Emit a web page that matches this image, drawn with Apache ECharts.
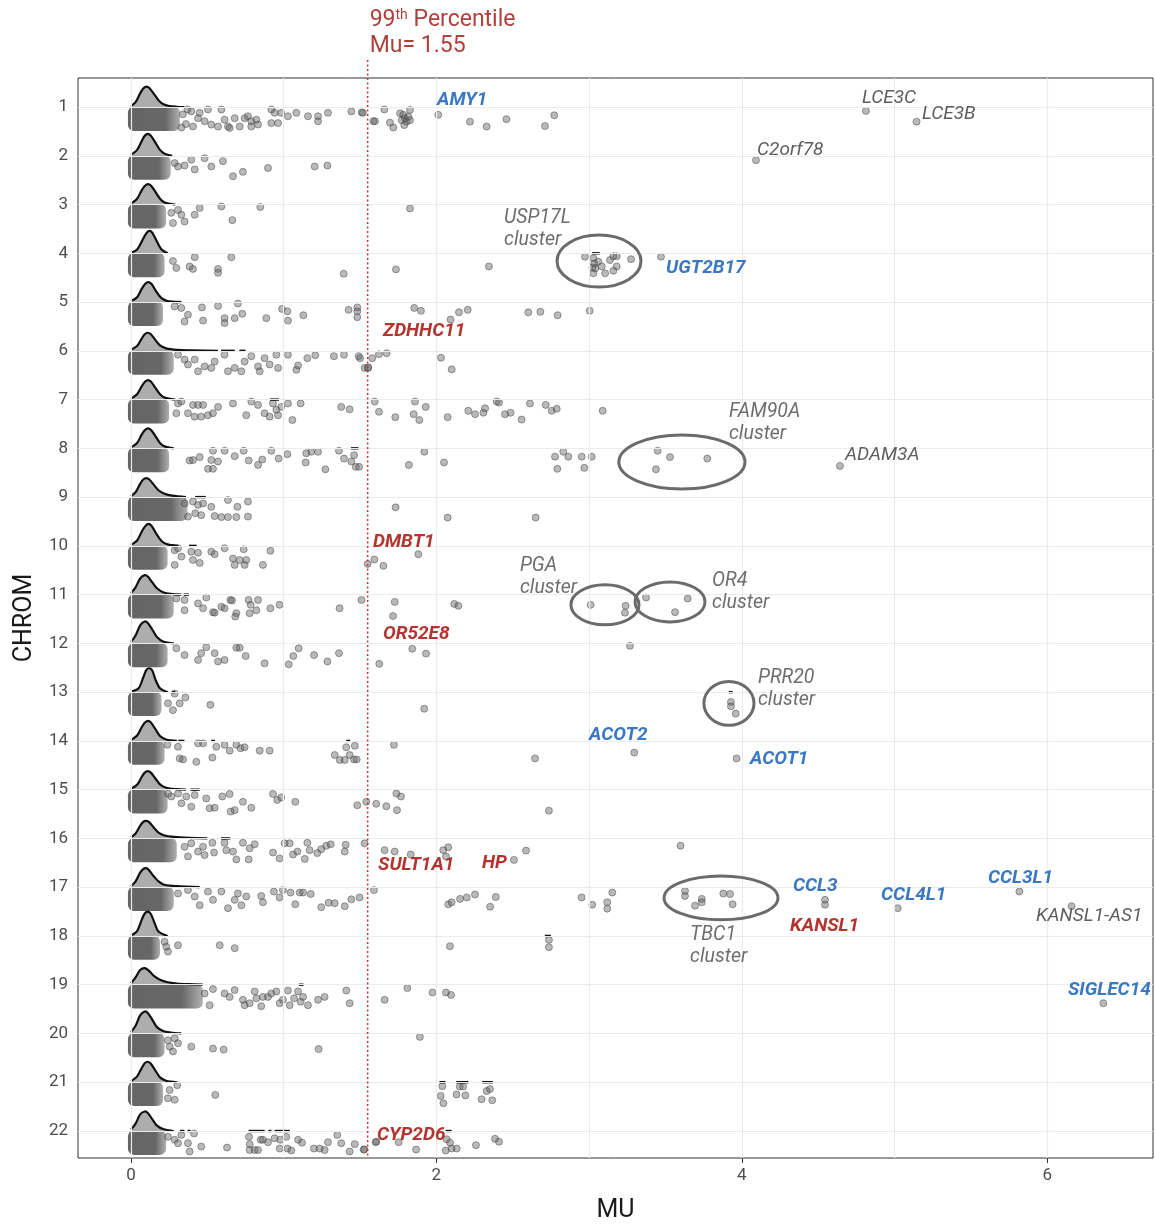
<!DOCTYPE html>
<html><head><meta charset="utf-8">
<script src="https://cdn.jsdelivr.net/npm/echarts@6/dist/echarts.min.js"></script>
<style>html,body{margin:0;padding:0;background:#fff}#c{width:1155px;height:1226px}</style>
</head><body><div id="c"></div>
<script>
// ---------- data ----------
const chromosomes = [1,2,3,4,5,6,7,8,9,10,11,12,13,14,15,16,17,18,19,20,21,22];
const xTicks = [0,2,4,6];
const xGridLines = [0,1,2,3,4,5,6];
const percentileMu = 1.55;
// right end of the dense (over-plotted) point core, per chromosome
const coreEnds = [0.32,0.26,0.23,0.22,0.21,0.28,0.25,0.25,0.37,0.24,0.28,0.24,0.20,0.22,0.24,0.30,0.28,0.19,0.47,0.22,0.21,0.23];

// density ridge outlines [mu, height in rows]
const dens1 = [[0,0.02],[0.03,0.1],[0.06,0.28],[0.08,0.38],[0.1,0.42],[0.12,0.39],[0.15,0.27],[0.18,0.14],[0.21,0.06],[0.25,0.02],[0.3,0.005],[0.35,0]];
const dens2 = [[0,0.02],[0.04,0.12],[0.07,0.3],[0.09,0.41],[0.11,0.45],[0.13,0.41],[0.16,0.27],[0.19,0.12],[0.22,0.04],[0.27,0]];
const dens3 = [[0,0.02],[0.04,0.12],[0.07,0.29],[0.09,0.38],[0.11,0.42],[0.13,0.39],[0.16,0.26],[0.19,0.12],[0.22,0.04],[0.29,0]];
const dens4 = [[0,0.01],[0.04,0.08],[0.07,0.24],[0.1,0.41],[0.12,0.46],[0.14,0.42],[0.17,0.24],[0.2,0.08],[0.24,0]];
const dens5 = [[0,0.02],[0.04,0.1],[0.07,0.27],[0.095,0.38],[0.115,0.41],[0.135,0.37],[0.165,0.22],[0.2,0.08],[0.24,0.02],[0.31,0]];
const dens6 = [[0,0.02],[0.04,0.1],[0.07,0.25],[0.09,0.34],[0.11,0.37],[0.13,0.34],[0.16,0.22],[0.19,0.11],[0.23,0.05],[0.3,0.02],[0.4,0.01],[0.57,0]];
const dens7 = [[0,0.02],[0.04,0.11],[0.07,0.27],[0.09,0.36],[0.11,0.40],[0.13,0.37],[0.16,0.24],[0.19,0.11],[0.22,0.04],[0.29,0]];
const dens8 = [[0,0.02],[0.04,0.11],[0.07,0.28],[0.09,0.37],[0.11,0.41],[0.13,0.38],[0.16,0.25],[0.19,0.11],[0.22,0.04],[0.28,0]];
const dens9 = [[0,0.02],[0.03,0.1],[0.06,0.27],[0.08,0.36],[0.1,0.39],[0.12,0.36],[0.15,0.25],[0.18,0.14],[0.22,0.07],[0.27,0.03],[0.36,0]];
const dens10 = [[0,0.02],[0.04,0.11],[0.07,0.29],[0.095,0.41],[0.115,0.45],[0.135,0.41],[0.165,0.25],[0.2,0.1],[0.24,0.03],[0.31,0]];
const dens11 = [[0,0.03],[0.03,0.15],[0.06,0.33],[0.09,0.40],[0.11,0.37],[0.14,0.25],[0.17,0.13],[0.21,0.05],[0.26,0.015],[0.33,0]];
const dens12 = [[0,0.03],[0.03,0.16],[0.06,0.37],[0.09,0.45],[0.11,0.42],[0.14,0.28],[0.17,0.13],[0.21,0.04],[0.28,0]];
const dens13 = [[0,0.01],[0.05,0.08],[0.08,0.3],[0.1,0.45],[0.12,0.49],[0.14,0.44],[0.16,0.26],[0.19,0.08],[0.24,0]];
const dens14 = [[0,0.02],[0.04,0.11],[0.07,0.28],[0.09,0.37],[0.11,0.41],[0.13,0.38],[0.16,0.24],[0.19,0.1],[0.23,0.03],[0.3,0]];
const dens15 = [[0,0.02],[0.04,0.1],[0.07,0.26],[0.09,0.35],[0.11,0.38],[0.13,0.35],[0.16,0.23],[0.19,0.11],[0.23,0.04],[0.3,0.01],[0.36,0]];
const dens16 = [[0,0.02],[0.03,0.1],[0.06,0.26],[0.08,0.34],[0.1,0.36],[0.12,0.33],[0.15,0.22],[0.18,0.12],[0.22,0.06],[0.28,0.03],[0.38,0.01],[0.5,0]];
const dens17 = [[0,0.02],[0.03,0.12],[0.06,0.3],[0.08,0.37],[0.095,0.39],[0.115,0.36],[0.145,0.24],[0.18,0.12],[0.22,0.05],[0.3,0.02],[0.45,0]];
const dens18 = [[0,0.01],[0.04,0.1],[0.07,0.33],[0.09,0.46],[0.11,0.5],[0.13,0.45],[0.155,0.26],[0.18,0.09],[0.24,0]];
const dens19 = [[0,0.03],[0.03,0.15],[0.06,0.3],[0.09,0.34],[0.12,0.28],[0.15,0.18],[0.19,0.1],[0.24,0.05],[0.3,0.025],[0.38,0.01],[0.47,0]];
const dens20 = [[0,0.03],[0.03,0.16],[0.06,0.37],[0.09,0.45],[0.11,0.42],[0.14,0.28],[0.17,0.13],[0.21,0.05],[0.26,0.02],[0.33,0]];
const dens21 = [[0,0.02],[0.04,0.12],[0.07,0.29],[0.09,0.39],[0.11,0.42],[0.13,0.38],[0.16,0.24],[0.19,0.1],[0.23,0.03],[0.3,0]];
const dens22 = [[0,0.03],[0.03,0.15],[0.06,0.34],[0.09,0.40],[0.11,0.37],[0.14,0.24],[0.17,0.11],[0.21,0.04],[0.28,0]];
// small isolated density bumps along the baseline [chrom, from, to]
const tailSegments = [[4,3.02,3.07],[5,0.30,0.33],[6,0.59,0.68],[6,0.71,0.75],[7,0.91,0.97],[8,1.44,1.49],[9,0.42,0.49],[10,0.38,0.43],[11,0.345,0.38],[13,0.27,0.29],[13,3.915,3.94],[14,0.31,0.35],[14,0.525,0.55],[14,1.41,1.435],[15,0.39,0.45],[16,0.59,0.65],[18,2.71,2.75],[19,1.10,1.13],[21,2.02,2.06],[21,2.13,2.21],[21,2.30,2.37],[22,0.32,0.35],[22,0.37,0.39],[22,0.77,0.875],[22,0.9,0.92],[22,0.94,1.04],[22,2.06,2.1]];

// individual (non-core) points [mu, vertical jitter within row]
const chr1 = [[0.34,0.15],[0.36,0.35],[0.33,0.42],[0.37,0.05],[0.395,0.09],[0.439,0.23],[0.45,0.12],[0.482,0.29],[0.504,0.05],[0.526,0.36],[0.57,0.40],[0.592,0.05],[0.406,0.40],[0.613,0.26],[0.635,0.40],[0.646,0.43],[0.679,0.23],[0.712,0.40],[0.744,0.23],[0.766,0.19],[0.788,0.29],[0.788,0.40],[0.821,0.26],[0.832,0.36],[0.919,0.05],[0.941,0.12],[0.984,0.12],[1.028,0.19],[1.083,0.12],[0.919,0.33],[0.963,0.33],[1.159,0.19],[1.225,0.19],[1.225,0.29],[1.29,0.12],[1.443,0.09],[1.511,0.11],[1.519,0.12],[1.587,0.29],[1.598,0.29],[1.659,0.05],[1.696,0.32],[1.718,0.42],[1.762,0.13],[1.783,0.16],[1.794,0.23],[1.773,0.27],[1.816,0.2],[1.827,0.06],[1.805,0.3],[1.79,0.37],[1.827,0.27],[2.012,0.16],[2.22,0.30],[2.329,0.40],[2.459,0.25],[2.711,0.39],[2.772,0.17],[4.813,0.08],[5.145,0.30]];
const chr2 = [[0.286,0.15],[0.308,0.22],[0.351,0.20],[0.395,0.08],[0.417,0.28],[0.482,0.05],[0.526,0.22],[0.602,0.11],[0.668,0.42],[0.733,0.33],[0.897,0.25],[1.203,0.22],[1.286,0.20],[4.093,0.09]];
const chr3 = [[0.264,0.17],[0.308,0.11],[0.33,0.21],[0.275,0.38],[0.351,0.35],[0.417,0.21],[0.45,0.07],[0.592,0.04],[0.664,0.32],[0.847,0.05],[1.827,0.08]];
const chr4 = [[0.275,0.16],[0.297,0.30],[0.417,0.08],[0.384,0.27],[0.406,0.32],[0.57,0.32],[0.57,0.40],[0.657,0.08],[1.393,0.42],[1.735,0.33],[2.344,0.27],[2.973,0.07],[3.028,0.10],[3.034,0.21],[3.06,0.17],[3.022,0.29],[3.083,0.27],[3.028,0.41],[3.105,0.41],[3.137,0.14],[3.159,0.06],[3.181,0.06],[3.181,0.27],[3.159,0.36],[3.275,0.12],[3.04,0.31],[3.471,0.07]];
const chr5 = [[0.286,0.09],[0.33,0.12],[0.373,0.26],[0.351,0.40],[0.465,0.11],[0.472,0.38],[0.57,0.08],[0.613,0.33],[0.613,0.43],[0.679,0.33],[0.70,0.03],[0.729,0.24],[0.886,0.33],[0.989,0.14],[1.024,0.19],[1.028,0.38],[1.129,0.27],[1.425,0.16],[1.482,0.11],[1.482,0.19],[1.482,0.31],[1.855,0.12],[1.899,0.18],[2.093,0.36],[2.148,0.21],[2.205,0.16],[2.602,0.21],[2.681,0.20],[2.794,0.27],[3.004,0.18]];
const chr6 = [[0.308,0.08],[0.351,0.18],[0.373,0.28],[0.417,0.18],[0.439,0.42],[0.482,0.32],[0.526,0.35],[0.548,0.22],[0.613,0.08],[0.635,0.42],[0.679,0.35],[0.723,0.42],[0.744,0.22],[0.788,0.11],[0.832,0.32],[0.843,0.42],[0.875,0.15],[0.908,0.28],[0.952,0.08],[0.963,0.35],[1.028,0.08],[1.083,0.39],[1.094,0.30],[1.155,0.15],[1.207,0.09],[1.329,0.11],[1.395,0.08],[1.491,0.11],[1.53,0.35],[1.552,0.35],[1.5,0.15],[1.554,0.34],[1.58,0.15],[1.624,0.07],[1.674,0.05],[2.03,0.14],[2.1,0.38]];
const chr7 = [[0.308,0.08],[0.33,0.04],[0.297,0.28],[0.373,0.28],[0.406,0.11],[0.439,0.11],[0.472,0.11],[0.417,0.35],[0.46,0.35],[0.504,0.32],[0.537,0.28],[0.57,0.15],[0.668,0.08],[0.755,0.32],[0.788,0.04],[0.832,0.11],[0.875,0.28],[0.908,0.35],[0.93,0.08],[0.952,0.21],[0.963,0.32],[0.984,0.15],[1.028,0.08],[1.057,0.42],[1.111,0.08],[1.377,0.15],[1.432,0.20],[1.596,0.04],[1.624,0.25],[1.731,0.36],[1.86,0.04],[1.851,0.30],[1.888,0.42],[1.93,0.15],[2.074,0.36],[2.209,0.23],[2.253,0.30],[2.308,0.27],[2.319,0.18],[2.395,0.04],[2.41,0.06],[2.449,0.30],[2.486,0.27],[2.558,0.41],[2.613,0.08],[2.716,0.11],[2.755,0.23],[2.788,0.19],[3.089,0.23]];
const chr8 = [[0.384,0.25],[0.406,0.24],[0.45,0.18],[0.504,0.42],[0.537,0.42],[0.526,0.24],[0.57,0.27],[0.537,0.05],[0.613,0.05],[0.679,0.16],[0.738,0.05],[0.771,0.25],[0.832,0.34],[0.86,0.23],[0.919,0.05],[0.967,0.21],[1.024,0.12],[1.144,0.29],[1.148,0.10],[1.181,0.07],[1.225,0.07],[1.273,0.43],[1.362,0.05],[1.395,0.21],[1.443,0.27],[1.461,0.14],[1.472,0.38],[1.494,0.38],[1.82,0.34],[1.921,0.07],[2.05,0.29],[2.777,0.17],[2.792,0.42],[2.831,0.07],[2.864,0.17],[2.952,0.17],[2.969,0.40],[3.017,0.17],[3.449,0.05],[3.53,0.18],[3.438,0.43],[3.774,0.21],[4.643,0.36]];
const chr9 = [[0.351,0.13],[0.373,0.40],[0.406,0.09],[0.439,0.16],[0.472,0.13],[0.421,0.33],[0.46,0.37],[0.526,0.20],[0.548,0.39],[0.592,0.41],[0.635,0.06],[0.635,0.41],[0.69,0.41],[0.697,0.20],[0.766,0.09],[0.766,0.40],[1.733,0.21],[2.074,0.42],[2.65,0.42]];
const chr10 = [[0.286,0.09],[0.308,0.05],[0.286,0.39],[0.33,0.22],[0.395,0.12],[0.406,0.29],[0.439,0.14],[0.45,0.35],[0.526,0.12],[0.548,0.17],[0.613,0.05],[0.668,0.26],[0.679,0.39],[0.712,0.29],[0.744,0.39],[0.755,0.29],[0.738,0.07],[0.864,0.39],[0.913,0.10],[1.55,0.37],[1.594,0.28],[1.653,0.41],[1.882,0.17]];
const chr11 = [[0.297,0.08],[0.351,0.11],[0.351,0.32],[0.439,0.18],[0.472,0.28],[0.493,0.06],[0.537,0.36],[0.548,0.37],[0.592,0.25],[0.613,0.28],[0.651,0.11],[0.662,0.12],[0.69,0.38],[0.683,0.45],[0.77,0.11],[0.777,0.38],[0.784,0.21],[0.821,0.32],[0.832,0.11],[0.913,0.28],[0.973,0.21],[1.366,0.28],[1.509,0.11],[1.727,0.15],[1.716,0.44],[2.117,0.19],[2.144,0.23],[3.01,0.21],[3.239,0.23],[3.235,0.37],[3.373,0.06],[3.646,0.08],[3.563,0.36]];
const chr12 = [[0.297,0.10],[0.351,0.24],[0.439,0.34],[0.46,0.20],[0.493,0.08],[0.548,0.20],[0.57,0.37],[0.613,0.34],[0.69,0.09],[0.712,0.09],[0.751,0.26],[0.875,0.41],[1.033,0.43],[1.063,0.26],[1.098,0.10],[1.199,0.24],[1.286,0.37],[1.362,0.20],[1.626,0.42],[1.842,0.11],[1.932,0.21],[3.268,0.05]];
const chr13 = [[0.286,0.03],[0.319,0.23],[0.356,0.11],[0.242,0.23],[0.275,0.37],[0.52,0.26],[1.921,0.34],[3.929,0.20],[3.929,0.29],[3.96,0.44]];
const chr14 = [[0.238,0.08],[0.308,0.12],[0.319,0.36],[0.341,0.38],[0.439,0.05],[0.472,0.05],[0.559,0.12],[0.613,0.08],[0.646,0.20],[0.69,0.08],[0.718,0.15],[0.744,0.13],[0.533,0.34],[0.428,0.43],[0.843,0.20],[0.908,0.20],[1.334,0.29],[1.367,0.39],[1.4,0.39],[1.41,0.13],[1.432,0.29],[1.46,0.38],[1.466,0.10],[1.478,0.38],[1.722,0.08],[2.646,0.36],[3.296,0.24],[3.966,0.36]];
const chr15 = [[0.242,0.08],[0.264,0.14],[0.308,0.08],[0.33,0.28],[0.362,0.14],[0.395,0.35],[0.417,0.11],[0.493,0.18],[0.515,0.38],[0.548,0.37],[0.598,0.14],[0.646,0.09],[0.653,0.45],[0.679,0.42],[0.733,0.25],[0.788,0.37],[0.93,0.09],[0.958,0.21],[0.984,0.16],[1.076,0.25],[1.482,0.32],[1.541,0.25],[1.606,0.29],[1.672,0.34],[1.738,0.08],[1.742,0.42],[1.768,0.14],[2.737,0.43]];
const chr16 = [[0.351,0.17],[0.395,0.10],[0.373,0.37],[0.439,0.27],[0.472,0.17],[0.482,0.34],[0.533,0.09],[0.544,0.29],[0.613,0.09],[0.624,0.24],[0.668,0.27],[0.69,0.43],[0.733,0.09],[0.777,0.20],[0.81,0.12],[0.771,0.43],[0.93,0.29],[0.973,0.41],[1.006,0.10],[1.039,0.10],[1.061,0.33],[1.09,0.27],[1.138,0.42],[1.155,0.09],[1.17,0.24],[1.22,0.30],[1.246,0.22],[1.279,0.15],[1.308,0.12],[1.4,0.27],[1.406,0.13],[1.53,0.10],[1.661,0.24],[1.727,0.27],[1.832,0.33],[2.045,0.24],[2.078,0.18],[2.063,0.37],[2.587,0.25],[2.508,0.44],[3.599,0.15]];
const chr17 = [[0.308,0.13],[0.373,0.06],[0.417,0.19],[0.45,0.37],[0.504,0.09],[0.537,0.26],[0.592,0.09],[0.635,0.43],[0.679,0.26],[0.70,0.13],[0.723,0.37],[0.755,0.19],[0.853,0.18],[0.864,0.31],[0.936,0.09],[0.973,0.21],[0.995,0.06],[1.045,0.11],[1.076,0.35],[1.105,0.11],[1.127,0.11],[1.177,0.14],[1.246,0.41],[1.294,0.32],[1.334,0.33],[1.4,0.39],[1.443,0.25],[1.497,0.21],[1.591,0.06],[2.078,0.35],[2.1,0.31],[2.155,0.24],[2.199,0.21],[2.253,0.15],[2.352,0.40],[2.389,0.20],[2.951,0.21],[3.021,0.36],[3.119,0.31],[3.119,0.44],[3.152,0.11],[3.628,0.08],[3.628,0.18],[3.694,0.38],[3.738,0.24],[3.738,0.31],[3.879,0.13],[3.923,0.14],[3.94,0.35],[4.545,0.26],[4.545,0.36],[5.021,0.43],[5.818,0.09],[6.16,0.39]];
const chr18 = [[0.22,0.12],[0.242,0.32],[0.308,0.19],[0.231,0.22],[0.581,0.19],[0.679,0.25],[2.089,0.21],[2.737,0.08],[2.737,0.23]];
const chr19 = [[0.482,0.18],[0.515,0.42],[0.537,0.09],[0.613,0.18],[0.646,0.25],[0.679,0.11],[0.733,0.31],[0.744,0.42],[0.777,0.38],[0.81,0.14],[0.821,0.28],[0.853,0.44],[0.864,0.25],[0.897,0.25],[0.919,0.18],[0.952,0.14],[0.974,0.38],[0.995,0.31],[1.028,0.12],[1.039,0.42],[1.068,0.28],[1.094,0.14],[1.111,0.35],[1.127,0.25],[1.159,0.42],[1.225,0.31],[1.268,0.25],[1.41,0.12],[1.432,0.38],[1.661,0.31],[1.81,0.07],[1.975,0.16],[2.063,0.16],[2.096,0.21],[6.368,0.38]];
const chr20 = [[0.242,0.14],[0.286,0.10],[0.308,0.20],[0.253,0.27],[0.275,0.37],[0.395,0.27],[0.537,0.31],[0.607,0.33],[1.229,0.32],[1.892,0.07]];
const chr21 = [[0.253,0.16],[0.242,0.33],[0.286,0.36],[0.303,0.06],[0.552,0.26],[2.039,0.08],[2.028,0.28],[2.046,0.43],[2.132,0.25],[2.153,0.09],[2.175,0.09],[2.19,0.27],[2.296,0.35],[2.329,0.18],[2.351,0.14],[2.366,0.37]];
const chr22 = [[0.242,0.12],[0.286,0.18],[0.33,0.08],[0.308,0.25],[0.384,0.42],[0.413,0.05],[0.373,0.25],[0.46,0.32],[0.629,0.34],[0.773,0.12],[0.777,0.27],[0.777,0.39],[0.81,0.39],[0.832,0.39],[0.849,0.18],[0.864,0.18],[0.897,0.23],[0.94,0.15],[0.974,0.36],[0.978,0.18],[1.017,0.12],[1.024,0.36],[1.05,0.40],[1.094,0.18],[1.12,0.24],[1.198,0.36],[1.236,0.36],[1.268,0.39],[1.29,0.23],[1.351,0.08],[1.377,0.25],[1.432,0.42],[1.465,0.27],[1.524,0.38],[1.607,0.22],[1.528,0.38],[1.602,0.23],[1.753,0.23],[1.867,0.38],[2.067,0.17],[2.089,0.24],[2.061,0.40],[2.1,0.36],[2.133,0.36],[2.259,0.29],[2.384,0.16],[2.41,0.22]];

// annotations: [text, mu, chrom position, kind]
const geneLabels = [
  ['AMY1',2.004,0.856,'blue'],['LCE3C',4.787,0.815,'grey'],['LCE3B',5.18,1.14,'grey'],
  ['C2orf78',4.1,1.88,'grey'],['USP17L\ncluster',2.443,3.50,'cluster'],['UGT2B17',3.504,4.30,'blue'],
  ['ZDHHC11',1.65,5.594,'red'],['FAM90A\ncluster',3.916,7.48,'cluster'],['ADAM3A',4.676,8.137,'grey'],
  ['DMBT1',1.585,9.92,'red'],['PGA\ncluster',2.547,10.64,'cluster'],['OR4\ncluster',3.805,10.95,'cluster'],
  ['OR52E8',1.65,11.81,'red'],['PRR20\ncluster',4.106,12.94,'cluster'],['ACOT2',3.0,13.88,'blue'],
  ['ACOT1',4.054,14.37,'blue'],['SULT1A1',1.618,16.55,'red'],['HP',2.299,16.5,'red'],
  ['CCL3',4.335,16.99,'blue'],['CCL4L1',4.912,17.16,'blue'],['CCL3L1',5.612,16.82,'blue'],
  ['KANSL1-AS1',5.927,17.6,'grey'],['KANSL1',4.316,17.81,'red'],['TBC1\ncluster',3.661,18.21,'cluster'],
  ['SIGLEC14',6.136,19.11,'blue'],['CYP2D6',1.611,22.09,'red']
];
// cluster rings: [mu centre, chrom centre, mu radius, chrom radius]
const clusterRings = [[3.065,4.16,0.275,0.533],[3.608,8.28,0.413,0.554],[3.104,11.21,0.223,0.41],[3.53,11.15,0.229,0.41],[3.916,13.23,0.164,0.45],[3.864,17.22,0.373,0.45]];

// ---------- build ----------
const densities = [dens1,dens2,dens3,dens4,dens5,dens6,dens7,dens8,dens9,dens10,dens11,dens12,dens13,dens14,dens15,dens16,dens17,dens18,dens19,dens20,dens21,dens22];
const pointRows = [chr1,chr2,chr3,chr4,chr5,chr6,chr7,chr8,chr9,chr10,chr11,chr12,chr13,chr14,chr15,chr16,chr17,chr18,chr19,chr20,chr21,chr22];
const pointData = [];
pointRows.forEach((arr, i) => arr.forEach(p => pointData.push([p[0], chromosomes[i] + p[1]])));

const Y_MIN = 0.405, Y_MAX = 22.554, X_MIN = -0.347, X_MAX = 6.693;
const FONT = 'Roboto, "Noto Sans", sans-serif';
const colorOf = {blue:'#3b78c2', red:'#b23530', grey:'#5e5e5e', cluster:'#6e6e6e'};

const chart = echarts.init(document.getElementById('c'), null, {renderer:'canvas'});
chart.setOption({
  animation: false,
  backgroundColor: '#fff',
  grid: {left: 78, top: 78, right: 2, bottom: 68, outerBoundsMode: 'none', containLabel: false,
    show: true, borderColor: '#333', borderWidth: 1, backgroundColor: 'transparent'},
  xAxis: {
    type: 'value', min: X_MIN, max: X_MAX,
    name: 'MU', nameLocation: 'middle', nameGap: 40,
    nameTextStyle: {fontFamily: FONT, fontSize: 25, color: '#1a1a1a'},
    axisLine: {show: false},
    axisTick: {show: true, customValues: xTicks, length: 5, lineStyle: {color: '#333'}},
    axisLabel: {customValues: xTicks, fontFamily: FONT, fontSize: 17, color: '#4d4d4d', margin: 9},
    splitLine: {show: false}
  },
  yAxis: {
    type: 'value', min: Y_MIN, max: Y_MAX, inverse: true,
    name: 'CHROM', nameLocation: 'middle', nameGap: 41, nameRotate: 90,
    nameTextStyle: {fontFamily: FONT, fontSize: 25, color: '#1a1a1a'},
    axisLine: {show: false},
    axisTick: {show: true, customValues: chromosomes, length: 5, lineStyle: {color: '#333'}},
    axisLabel: {customValues: chromosomes, fontFamily: FONT, fontSize: 17, color: '#4d4d4d', margin: 10},
    splitLine: {show: false}
  },
  series: [
    { // grid lines
      type: 'scatter', data: [], z: 0, silent: true,
      markLine: {
        silent: true, symbol: 'none', label: {show: false}, animation: false,
        lineStyle: {color: '#ebebeb', width: 1.2, type: 'solid'},
        data: xGridLines.map(v => ({xAxis: v})).concat(chromosomes.map(v => ({yAxis: v})))
      }
    },
    { // dense core of over-plotted points
      type: 'custom', z: 2, silent: true,
      data: chromosomes.map((c, i) => [coreEnds[i], c]),
      renderItem: (params, api) => {
        const end = api.value(0), c = api.value(1);
        const p0 = api.coord([-0.02, c - 0.01]);
        const p1 = api.coord([end, c + 0.49]);
        return {type: 'rect', shape: {x: p0[0], y: p0[1], width: p1[0] - p0[0], height: p1[1] - p0[1], r: 6},
          style: {fill: new echarts.graphic.LinearGradient(0, 0, 1, 0, [
            {offset: 0, color: '#656565'}, {offset: 0.72, color: '#676767'}, {offset: 1, color: 'rgba(110,110,110,0.55)'}
          ])}};
      }
    },
    { // individual points
      type: 'scatter', z: 3, silent: true, data: pointData,
      symbolSize: 7,
      itemStyle: {color: 'rgba(95,95,95,0.55)', borderColor: 'rgba(65,65,65,0.6)', borderWidth: 1}
    },
    { // density ridges
      type: 'custom', z: 4, silent: true,
      data: chromosomes.map(c => [0, c]),
      renderItem: (params, api) => {
        const i = params.dataIndex, c = chromosomes[i];
        const pts = densities[i].map(d => api.coord([d[0], c - d[1]]));
        const last = densities[i][densities[i].length - 1][0];
        const poly = pts.concat([api.coord([last, c]), api.coord([0, c])]);
        return {type: 'group', children: [
          {type: 'polygon', shape: {points: poly, smooth: 0}, style: {fill: '#adadad'}},
          {type: 'polyline', shape: {points: pts, smooth: 0.3}, style: {stroke: '#111', lineWidth: 2.2, fill: null}}
        ]};
      }
    },
    { // small baseline density bumps
      type: 'custom', z: 4, silent: true,
      data: tailSegments.map(s => [s[1], s[0], s[2]]),
      renderItem: (params, api) => {
        const a = api.coord([api.value(0), api.value(1)]);
        const b = api.coord([api.value(2), api.value(1)]);
        return {type: 'line', shape: {x1: a[0], y1: a[1], x2: b[0], y2: b[1]}, style: {stroke: '#111', lineWidth: 2.4}};
      }
    },
    { // cluster rings
      type: 'custom', z: 5, silent: true,
      data: clusterRings,
      renderItem: (params, api) => {
        const ctr = api.coord([api.value(0), api.value(1)]);
        const sz = api.size([api.value(2), api.value(3)]);
        return {type: 'ellipse', shape: {cx: ctr[0], cy: ctr[1], rx: Math.abs(sz[0]), ry: Math.abs(sz[1])},
          style: {stroke: '#6b6b6b', lineWidth: 3, fill: null}};
      }
    },
    { // gene labels
      type: 'custom', z: 6, silent: true,
      data: geneLabels.map(g => [g[1], g[2]]),
      renderItem: (params, api) => {
        const g = geneLabels[params.dataIndex];
        const p = api.coord([g[1], g[2]]);
        const bold = (g[3] === 'blue' || g[3] === 'red');
        const size = g[3] === 'cluster' ? 19.5 : 19;
        return {type: 'text', x: p[0], y: p[1], style: {
          text: g[0], fill: colorOf[g[3]], align: 'left', verticalAlign: 'middle',
          font: 'italic ' + (bold ? 'bold ' : '') + size + 'px ' + FONT, lineHeight: 22
        }};
      }
    },
    { // 99th percentile line + label
      type: 'custom', z: 7, silent: true, clip: false,
      data: [[percentileMu, Y_MIN]],
      renderItem: (params, api) => {
        const top = api.coord([api.value(0), Y_MIN]);
        const bot = api.coord([api.value(0), Y_MAX]);
        return {type: 'group', children: [
          {type: 'line', shape: {x1: top[0], y1: top[1] - 18, x2: bot[0], y2: bot[1]},
            style: {stroke: '#c0392b', lineWidth: 1.5, lineDash: [2, 2.5]}},
          {type: 'text', x: top[0] + 2, y: top[1] - 71, style: {
            text: '{n|99}{s|th}{n| Percentile}\n{n|Mu= 1.55}', align: 'left', verticalAlign: 'top',
            rich: {
              n: {fontSize: 23, fontFamily: FONT, fill: '#b0413a', lineHeight: 26},
              s: {fontSize: 14, fontFamily: FONT, fill: '#b0413a', lineHeight: 26, verticalAlign: 'top', padding: [1, 0, 0, 0]}
            }
          }}
        ]};
      }
    }
  ]
});
</script>
</body></html>
